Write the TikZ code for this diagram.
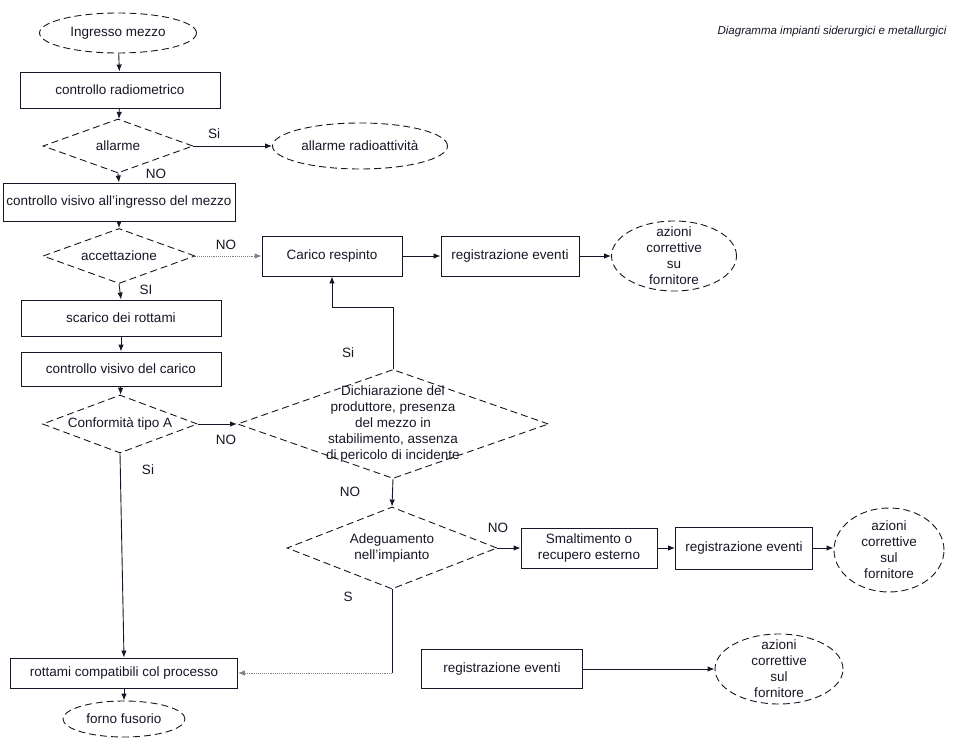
\documentclass[tikz,border=0pt]{standalone}
\usepackage{fontspec}
\setmainfont{Liberation Sans}
\usetikzlibrary{shapes.geometric,arrows.meta}
\definecolor{ink}{RGB}{22,22,38}

\begin{document}
\begin{tikzpicture}[x=1pt, y=-1pt, >={Latex[length=7pt,width=5.5pt]}, line width=0.9pt, color=ink]
    \tikzset{
        every node/.style={font=\fontsize{13.5}{16}\selectfont},
        stepbox/.style={draw, rectangle, inner sep=1pt, align=center},
        decision/.style={draw, diamond, dash pattern=on 7pt off 4pt, inner sep=0pt},
        terminal/.style={draw, ellipse, dash pattern=on 7pt off 4pt, inner sep=0pt},
        inside/.style={label={[align=center]center:#1}},
        faint/.style={densely dotted, ink!55}
    }
    \useasboundingbox (0,0) rectangle (953,738);

    % colonna principale
    \node[terminal, minimum width=157pt, minimum height=40pt, inside={Ingresso mezzo}] (ingresso) at (118,33) {};
    \node[stepbox, minimum width=200pt, minimum height=36pt] (radio) at (120,90) {controllo radiometrico};
    \node[decision, minimum width=150pt, minimum height=54pt, inside={allarme}] (allarme) at (118,146) {};
    \node[terminal, minimum width=175pt, minimum height=46pt, inside={allarme radioattività}] (allrad) at (360,146) {};
    \node[stepbox, minimum width=232pt, minimum height=38pt] (visivo) at (119,202) {controllo visivo all'ingresso del mezzo};
    \node[decision, minimum width=152pt, minimum height=55pt, inside={accettazione}] (accett) at (119,256) {};
    \node[stepbox, minimum width=200pt, minimum height=36pt] (scarico) at (121,318) {scarico dei rottami};
    \node[stepbox, minimum width=200pt, minimum height=34pt] (carico) at (121,369) {controllo visivo del carico};
    \node[decision, minimum width=155pt, minimum height=58pt, inside={Conformità tipo A}] (conf) at (120,424) {};
    \node[stepbox, minimum width=227pt, minimum height=30pt] (rottami) at (124,673) {rottami compatibili col processo};
    \node[terminal, minimum width=122pt, minimum height=36pt, inside={forno fusorio}] (forno) at (124,719) {};

    % carico respinto
    \node[stepbox, minimum width=140pt, minimum height=40pt] (respinto) at (332,256) {Carico respinto};
    \node[stepbox, minimum width=138pt, minimum height=40pt] (reg1) at (510,256) {registrazione eventi};
    \node[terminal, minimum width=125pt, minimum height=70pt, inside={azioni\\correttive\\su\\fornitore}] (azioni1) at (674,256) {};

    % verifiche sul produttore
    \node[decision, minimum width=311pt, minimum height=109pt,
          inside={Dichiarazione del\\produttore, presenza\\del mezzo in\\stabilimento, assenza\\di pericolo di incidente}] (dich) at (393,424) {};
    \node[decision, minimum width=210pt, minimum height=82pt, inside={Adeguamento\\nell'impianto}] (adeg) at (392,548) {};
    \node[stepbox, minimum width=136pt, minimum height=40pt] (smalt) at (589,548) {Smaltimento o\\recupero esterno};
    \node[stepbox, minimum width=137pt, minimum height=42pt] (reg2) at (744,548) {registrazione eventi};
    \node[terminal, minimum width=110pt, minimum height=84pt, inside={azioni\\correttive\\sul\\fornitore}] (azioni2) at (889,550) {};
    \node[stepbox, minimum width=161pt, minimum height=39pt] (reg3) at (502,669) {registrazione eventi};
    \node[terminal, minimum width=128pt, minimum height=70pt, inside={azioni\\correttive\\sul\\fornitore}] (azioni3) at (779,669) {};

    \node[font=\fontsize{11.5}{13}\selectfont\itshape] (titolo) at (832,32) {Diagramma impianti siderurgici e metallurgici};

    % risposte
    \node (si1) at (214,134) {Si};
    \node (no1) at (156,174) {NO};
    \node (no2) at (226,245) {NO};
    \node (si2) at (146,290) {SI};
    \node (no3) at (226,440) {NO};
    \node (si3) at (148,470) {Si};
    \node (si4) at (348,353) {Si};
    \node (no4) at (350,492) {NO};
    \node (no5) at (498,528) {NO};
    \node (s5) at (348,597) {S};

    % connettori
    \draw[->] (ingresso) -- (radio);
    \draw[->] (radio) -- (allarme);
    \draw[->] (allarme.east) -- (allrad.west);
    \draw[->] (allarme.south) -- (visivo.north);
    \draw[->] (visivo) -- (accett);
    \draw[->, faint] (accett.east) -- (respinto.west);
    \draw[->] (respinto.east) -- (reg1.west);
    \draw[->] (reg1.east) -- (azioni1.west);
    \draw[->] (accett.south) -- (scarico.north);
    \draw[->] (scarico) -- (carico);
    \draw[->] (carico) -- (conf);
    \draw[->] (conf.east) -- (dich.west);
    \draw[->] (dich.north) -- ++(0,-62) -| (respinto.south);
    \draw[->] (dich.south) -- (adeg.north);
    \draw[->] (adeg.east) -- (smalt.west);
    \draw[->] (smalt.east) -- (reg2.west);
    \draw[->] (reg2.east) -- (azioni2.west |- reg2.east);
    \draw (adeg.south) -- (adeg.south |- rottami.east) coordinate (ritorno);
    \draw[->, faint] (ritorno) -- (rottami.east);
    \draw[->] (conf.south) -- (rottami.north);
    \draw[->] (rottami) -- (forno);
    \draw[->] (reg3.east) -- (azioni3.west);

\end{tikzpicture}
\end{document}
